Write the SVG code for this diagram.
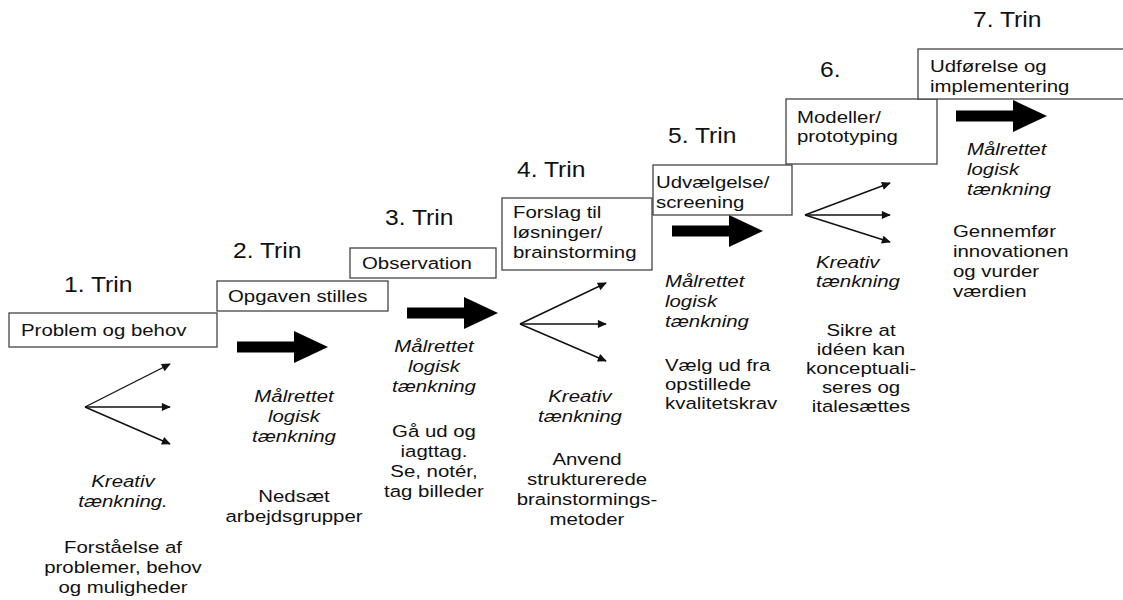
<svg xmlns="http://www.w3.org/2000/svg" width="1123" height="600" viewBox="0 0 1123 600">
<style>
text{font-family:"Liberation Sans",Arial,sans-serif;font-size:17px;fill:#111}
.h{font-size:22px}
.i{font-style:italic}
.m{text-anchor:middle}
.box{fill:#fff;stroke:#444;stroke-width:1.3}
.fan{stroke:#111;stroke-width:1.4;fill:none;marker-end:url(#ah)}
</style>
<defs>
<marker id="ah" viewBox="0 0 10 10" refX="9" refY="5" markerWidth="11" markerHeight="9" markerUnits="userSpaceOnUse" orient="auto">
<path d="M0,0.5 L10,5 L0,9.5 Z" fill="#111"/>
</marker>
<path id="big" d="M0,-5.5 H57 V-16 L91,0 L57,16 V5.5 H0 Z" fill="#000"/>
<clipPath id="c5"><rect x="653" y="165" width="139" height="47"/></clipPath>
<clipPath id="c7"><rect x="918" y="49" width="210" height="47"/></clipPath>
</defs>
<rect width="1123" height="600" fill="#fff"/>

<g id="connectors">
<line class="fan" x1="85" y1="407" x2="170" y2="364"/>
<line class="fan" x1="85" y1="407" x2="170" y2="407"/>
<line class="fan" x1="85" y1="407" x2="170" y2="444"/>
<line class="fan" x1="520" y1="324" x2="606" y2="283"/>
<line class="fan" x1="520" y1="324" x2="606" y2="324"/>
<line class="fan" x1="520" y1="324" x2="606" y2="361"/>
<line class="fan" x1="805" y1="215" x2="890" y2="183"/>
<line class="fan" x1="805" y1="215" x2="890" y2="215"/>
<line class="fan" x1="805" y1="215" x2="890" y2="242"/>
<use href="#big" x="237" y="347"/>
<use href="#big" x="407" y="313"/>
<use href="#big" x="672" y="231"/>
<use href="#big" x="956" y="116"/>
</g>

<g id="step1">
<text class="h" x="64" y="292" transform="matrix(1.12,0,0,1,-7.68,0)">1. Trin</text>
<rect class="box" x="9" y="313" width="208" height="34"/>
<text x="21" y="336" transform="matrix(1.2,0,0,1,-4.2,0)">Problem og behov</text>
<g transform="matrix(1.2,0,0,1,-24.6,0)">
<text class="i m" x="123" y="487">Kreativ</text>
<text class="i m" x="123" y="507">tænkning.</text>
<text class="m" x="123" y="553">Forståelse af</text>
<text class="m" x="123" y="573">problemer, behov</text>
<text class="m" x="123" y="593">og muligheder</text>
</g>
</g>

<g id="step2">
<text class="h" x="233" y="258" transform="matrix(1.12,0,0,1,-27.96,0)">2. Trin</text>
<rect class="box" x="217" y="281" width="171" height="30"/>
<text x="228" y="302" transform="matrix(1.2,0,0,1,-45.6,0)">Opgaven stilles</text>
<g transform="matrix(1.2,0,0,1,-58.8,0)">
<text class="i m" x="294" y="402">Målrettet</text>
<text class="i m" x="294" y="422">logisk</text>
<text class="i m" x="294" y="442">tænkning</text>
<text class="m" x="294" y="502">Nedsæt</text>
<text class="m" x="294" y="522">arbejdsgrupper</text>
</g>
</g>

<g id="step3">
<text class="h" x="385" y="225" transform="matrix(1.12,0,0,1,-46.2,0)">3. Trin</text>
<rect class="box" x="350" y="248" width="146" height="30"/>
<text x="362" y="269" transform="matrix(1.2,0,0,1,-72.4,0)">Observation</text>
<g transform="matrix(1.2,0,0,1,-86.8,0)">
<text class="i m" x="434" y="352">Målrettet</text>
<text class="i m" x="434" y="372">logisk</text>
<text class="i m" x="434" y="392">tænkning</text>
<text class="m" x="434" y="437">Gå ud og</text>
<text class="m" x="434" y="457">iagttag.</text>
<text class="m" x="434" y="477">Se, notér,</text>
<text class="m" x="434" y="497">tag billeder</text>
</g>
</g>

<g id="step4">
<text class="h" x="517" y="177" transform="matrix(1.12,0,0,1,-62.04,0)">4. Trin</text>
<rect class="box" x="502" y="198" width="150" height="72"/>
<g transform="matrix(1.2,0,0,1,-102.6,0)">
<text x="513" y="218">Forslag til</text>
<text x="513" y="238">løsninger/</text>
<text x="513" y="258">brainstorming</text>
</g>
<g transform="matrix(1.2,0,0,1,-116,0)">
<text class="i m" x="580" y="402">Kreativ</text>
<text class="i m" x="580" y="422">tænkning</text>
</g>
<g transform="matrix(1.2,0,0,1,-117.4,0)">
<text class="m" x="587" y="465">Anvend</text>
<text class="m" x="587" y="485">strukturerede</text>
<text class="m" x="587" y="505">brainstormings-</text>
<text class="m" x="587" y="525">metoder</text>
</g>
</g>

<g id="step5">
<text class="h" x="668" y="143" transform="matrix(1.12,0,0,1,-80.16,0)">5. Trin</text>
<rect class="box" x="653" y="165" width="139" height="50"/>
<g clip-path="url(#c5)">
<g transform="matrix(1.2,0,0,1,-131.2,0)">
<text x="656" y="188">Udvælgelse/</text>
<text x="656" y="208">screening</text>
</g>
</g>
<g transform="matrix(1.2,0,0,1,-133,0)">
<text class="i" x="665" y="287">Målrettet</text>
<text class="i" x="665" y="307">logisk</text>
<text class="i" x="665" y="327">tænkning</text>
<text x="665" y="371">Vælg ud fra</text>
<text x="665" y="390">opstillede</text>
<text x="665" y="409">kvalitetskrav</text>
</g>
</g>

<g id="step6">
<text class="h" x="820" y="77" transform="matrix(1.12,0,0,1,-98.4,0)">6.</text>
<rect class="box" x="786" y="99" width="151" height="65"/>
<g transform="matrix(1.2,0,0,1,-159.4,0)">
<text x="797" y="123">Modeller/</text>
<text x="797" y="142">prototyping</text>
</g>
<g transform="matrix(1.2,0,0,1,-163.2,0)">
<text class="i" x="816" y="268">Kreativ</text>
<text class="i" x="816" y="287">tænkning</text>
</g>
<g transform="matrix(1.2,0,0,1,-172.2,0)">
<text class="m" x="861" y="336">Sikre at</text>
<text class="m" x="861" y="355">idéen kan</text>
<text class="m" x="861" y="374">konceptuali-</text>
<text class="m" x="861" y="393">seres og</text>
<text class="m" x="861" y="412">italesættes</text>
</g>
</g>

<g id="step7">
<text class="h" x="973" y="27" transform="matrix(1.12,0,0,1,-116.76,0)">7. Trin</text>
<rect class="box" x="918" y="49" width="220" height="50"/>
<g clip-path="url(#c7)">
<g transform="matrix(1.2,0,0,1,-186,0)">
<text x="930" y="72">Udførelse og</text>
<text x="930" y="92">implementering</text>
</g>
</g>
<g transform="matrix(1.2,0,0,1,-193.4,0)">
<text class="i" x="967" y="155">Målrettet</text>
<text class="i" x="967" y="175">logisk</text>
<text class="i" x="967" y="195">tænkning</text>
</g>
<g transform="matrix(1.2,0,0,1,-190.6,0)">
<text x="953" y="237">Gennemfør</text>
<text x="953" y="257">innovationen</text>
<text x="953" y="277">og vurder</text>
<text x="953" y="297">værdien</text>
</g>
</g>
</svg>
